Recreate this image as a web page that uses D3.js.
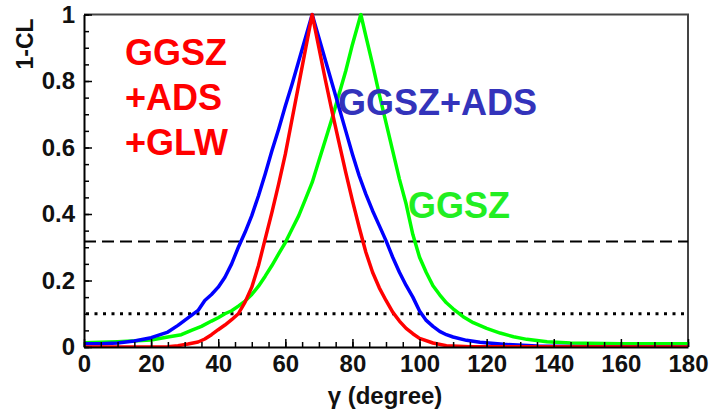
<!DOCTYPE html>
<html>
<head>
<meta charset="utf-8">
<script src="https://cdn.jsdelivr.net/npm/d3@7"></script>
<style>
    body { margin: 0; background: #fff; }
    svg text { font-family: "Liberation Sans", Arial, sans-serif; font-weight: bold; }
</style>
</head>
<body>
<svg id="chart" width="712" height="412"></svg>
<script>
// Data (gamma in degrees, 1-CL)
const greenGamma = [0,10,20,25,29,32,35,38,40,42,44,46,48,50,52,54,56,58,60,62,64,66,68,70,72,74,76,78,80,82.5,84,86,88,90,92,94,96,98,100,102,104,106,108,110,113,116,120,124,128,132,138,145,160,180];
const greenCL = [0.013,0.016,0.021,0.03,0.037,0.05,0.062,0.078,0.088,0.1,0.109,0.123,0.138,0.158,0.183,0.213,0.245,0.28,0.314,0.355,0.395,0.445,0.495,0.56,0.625,0.69,0.76,0.83,0.91,1,0.935,0.85,0.76,0.675,0.59,0.505,0.43,0.338,0.27,0.224,0.184,0.157,0.133,0.115,0.091,0.073,0.056,0.042,0.031,0.023,0.016,0.012,0.01,0.01];

const blueGamma = [0,5,10,15,20,25,28,30,32,34,36,38,40,42,44,46,48,50,52,54,56,58,60,62,64,66,68,70,72,74,76,78,80,82,84,86,88,90,92,94,96,98,100,102,104,106,108,110,114,118,125,135,150,180];
const blueCL = [0.01,0.01,0.012,0.018,0.028,0.045,0.065,0.08,0.095,0.11,0.14,0.158,0.18,0.21,0.25,0.3,0.345,0.395,0.455,0.52,0.59,0.655,0.725,0.79,0.86,0.93,1,0.93,0.86,0.79,0.72,0.65,0.58,0.515,0.46,0.41,0.365,0.32,0.27,0.225,0.185,0.15,0.108,0.08,0.062,0.047,0.037,0.03,0.02,0.014,0.008,0.003,0.001,0];

const redGamma = [0,20,25,28,31,34,36,38,40,42,44,46,48,50,52,54,56,58,60,62,64,66,68,70,72,74,76,78,80,82,84,86,88,90,92,94,96,98,100,104,108,115,180];
const redCL = [0,0,0.001,0.004,0.009,0.015,0.024,0.037,0.052,0.066,0.082,0.1,0.135,0.18,0.245,0.325,0.405,0.49,0.58,0.685,0.79,0.895,1,0.9,0.8,0.705,0.615,0.525,0.44,0.36,0.285,0.225,0.178,0.14,0.105,0.078,0.056,0.04,0.026,0.012,0.004,0.001,0];

const xTicks = [0,20,40,60,80,100,120,140,160,180];
const yTicks = [0,0.2,0.4,0.6,0.8,1];
const yTickLabels = ['0','0.2','0.4','0.6','0.8','1'];
const levels = [0.317, 0.1]; // dashed, dotted

// Layout
const margin = { top: 14.5, right: 24, bottom: 65, left: 84 };
const width = 712 - margin.left - margin.right;
const height = 412 - margin.top - margin.bottom;

const svg = d3.select('#chart')
    .append('g')
        .attr('transform', `translate(${margin.left},${margin.top})`);

const x = d3.scaleLinear().domain([0, 180]).range([0, width]);
const y = d3.scaleLinear().domain([0, 1]).range([height, 0]);

// Frame (top and right)
svg.append('path')
    .attr('d', `M0,0H${width}V${height}`)
    .attr('fill', 'none')
    .attr('stroke', '#444')
    .attr('stroke-width', 2);

// Reference levels
svg.append('line')
    .attr('x1', 0).attr('x2', width)
    .attr('y1', y(levels[0])).attr('y2', y(levels[0]))
    .attr('stroke', '#000').attr('stroke-width', 2)
    .attr('stroke-dasharray', '12,6');

svg.append('line')
    .attr('x1', 2).attr('x2', width - 4)
    .attr('y1', y(levels[1])).attr('y2', y(levels[1]))
    .attr('stroke', '#000').attr('stroke-width', 3)
    .attr('stroke-dasharray', '3,5.5');

// Curves
svg.append('clipPath').attr('id', 'clip')
    .append('rect').attr('x', 0).attr('y', -2).attr('width', width).attr('height', height + 2);

const line = d3.line()
    .x(d => x(d[0]))
    .y(d => y(d[1]));

const series = [
    { g: greenGamma, v: greenCL, color: '#00ff00' },
    { g: blueGamma, v: blueCL, color: '#0000ff' },
    { g: redGamma, v: redCL, color: '#ff0000' }
];

series.forEach(s => {
    svg.append('path')
        .datum(d3.zip(s.g, s.v))
        .attr('clip-path', 'url(#clip)')
        .attr('fill', 'none')
        .attr('stroke', s.color)
        .attr('stroke-width', 3.5)
        .attr('stroke-linejoin', 'round')
        .attr('d', line);
});

// Axes: minor ticks then major ticks, all pointing inward
svg.append('g')
    .attr('transform', `translate(0,${height})`)
    .call(d3.axisBottom(x).tickValues(d3.range(0, 181, 5)).tickSize(-5).tickSizeOuter(0).tickFormat(''))
    .call(g => g.select('.domain').remove());

svg.append('g')
    .attr('transform', `translate(0,${height})`)
    .call(d3.axisBottom(x).tickValues(xTicks).tickSize(-8).tickSizeOuter(0).tickPadding(8))
    .call(g => g.select('.domain').attr('stroke-width', 2))
    .call(g => g.selectAll('text').attr('font-size', 24).attr('fill', '#111'));

svg.append('g')
    .call(d3.axisLeft(y).tickValues(d3.range(0, 1.001, 0.05)).tickSize(-5).tickSizeOuter(0).tickFormat(''))
    .call(g => g.select('.domain').remove());

svg.append('g')
    .call(d3.axisLeft(y).tickValues(yTicks).tickSize(-8).tickSizeOuter(0).tickPadding(9)
        .tickFormat((d, i) => yTickLabels[i]))
    .call(g => g.select('.domain').attr('stroke-width', 2))
    .call(g => g.selectAll('text').attr('font-size', 24).attr('fill', '#111'));

svg.selectAll('.tick line').attr('stroke-width', 1.5);

// Axis titles
d3.select('#chart').append('text')
    .attr('transform', 'translate(33,44) rotate(-90)')
    .attr('text-anchor', 'middle')
    .attr('font-size', 23)
    .attr('fill', '#111')
    .text('1-CL');

d3.select('#chart').append('text')
    .attr('x', 385).attr('y', 404)
    .attr('text-anchor', 'middle')
    .attr('font-size', 24)
    .attr('fill', '#111')
    .text('γ (degree)');

// Curve labels
const labels = [
    { lines: ['GGSZ', '+ADS', '+GLW'], x: 125, y: 65, color: '#ff0000' },
    { lines: ['GGSZ+ADS'], x: 338, y: 115, color: '#3333bb' },
    { lines: ['GGSZ'], x: 408, y: 218, color: '#22ee22' }
];

labels.forEach(l => {
    l.lines.forEach((t, i) => {
        d3.select('#chart').append('text')
            .attr('x', l.x).attr('y', l.y + i * 45)
            .attr('font-size', 36)
            .attr('fill', l.color)
            .text(t);
    });
});
</script>
</body>
</html>
